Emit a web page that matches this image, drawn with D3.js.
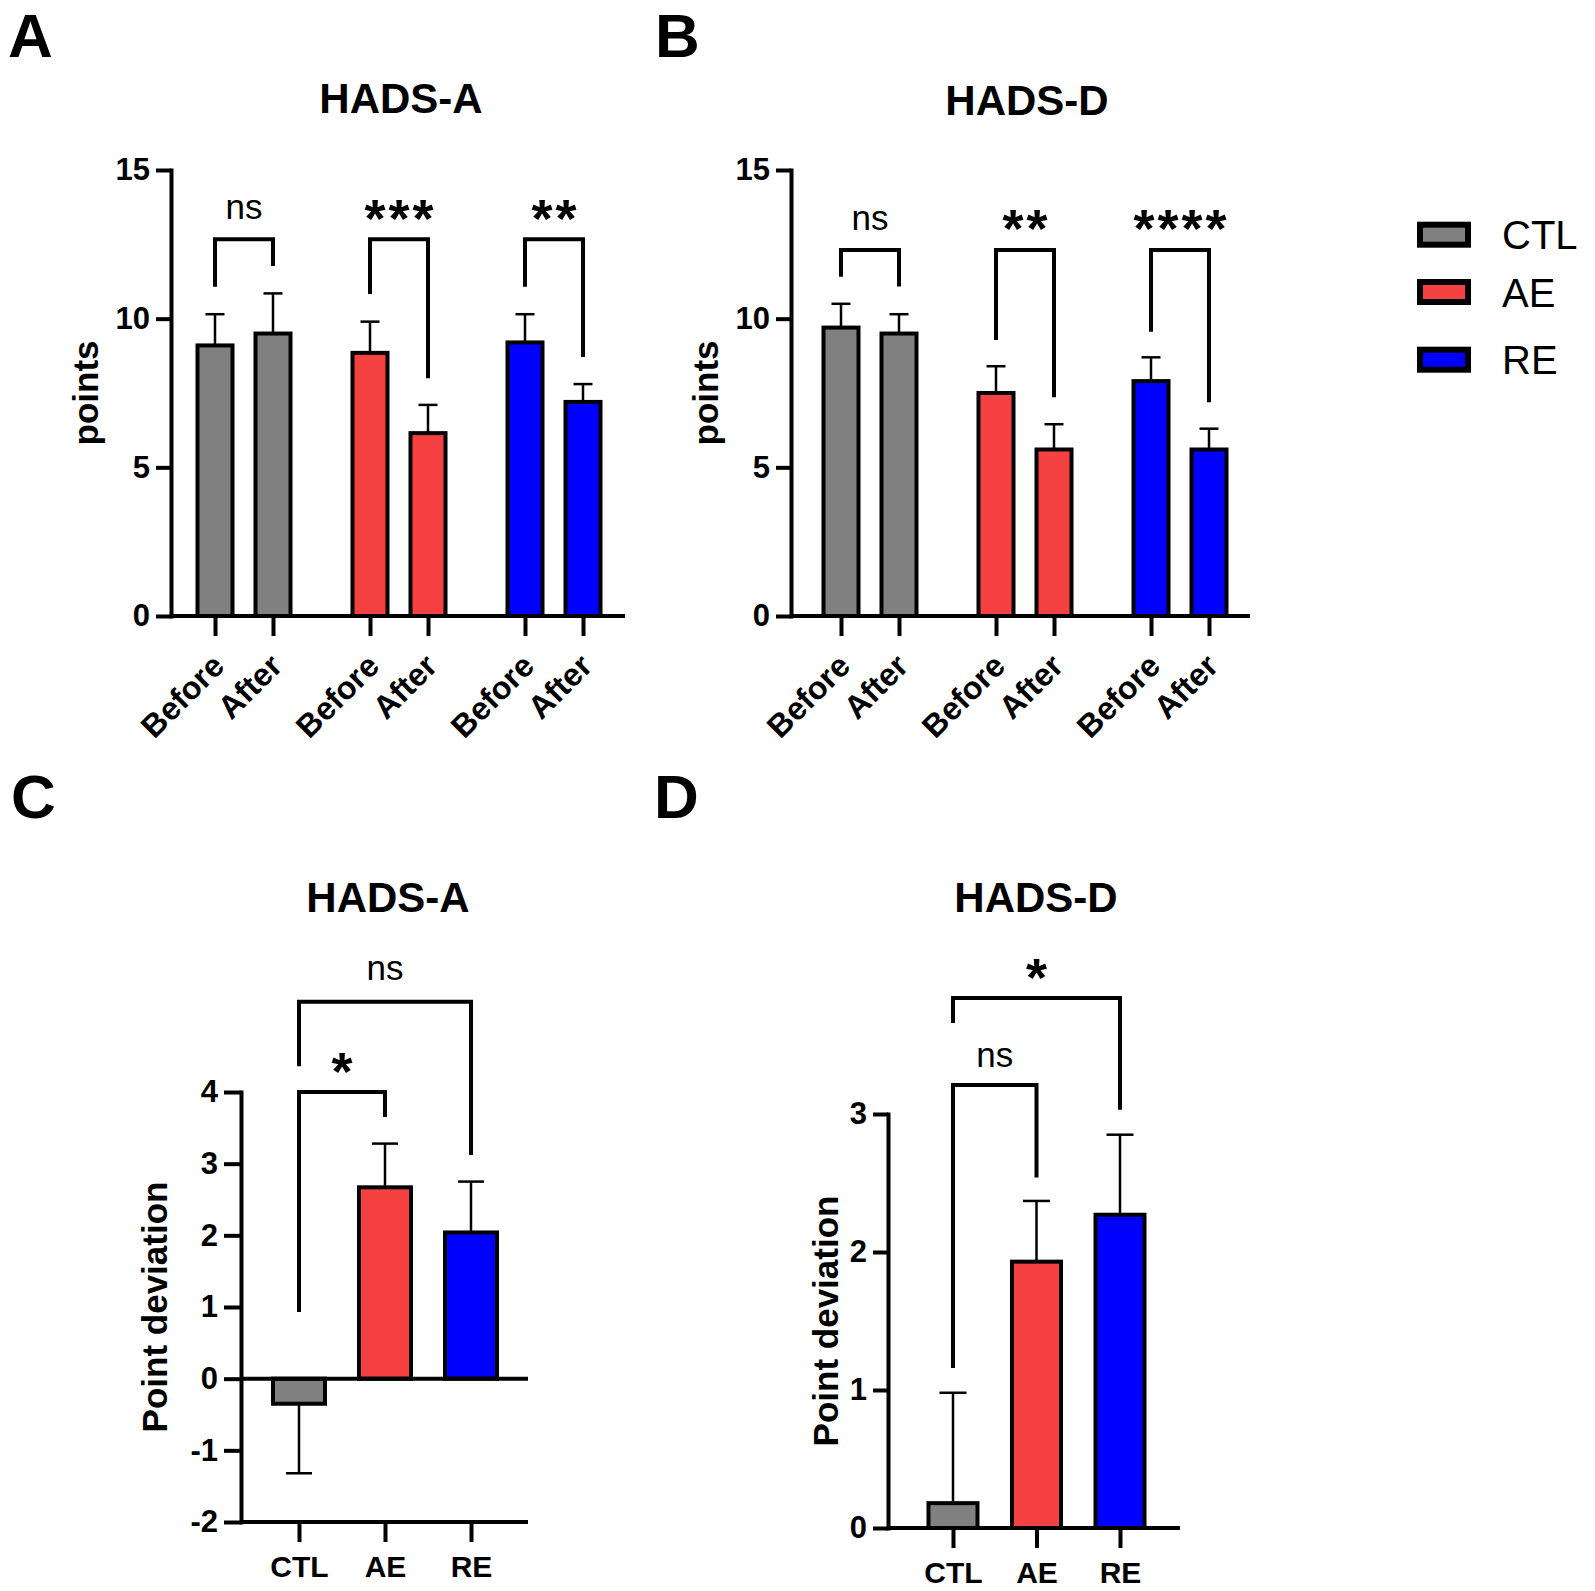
<!DOCTYPE html>
<html><head><meta charset="utf-8">
<script src="https://cdn.jsdelivr.net/npm/d3@7"></script>
<style>body{margin:0;background:#fff}svg{display:block}text{font-family:"Liberation Sans",Arial,sans-serif}</style>
</head><body>
<svg id="c" width="1595" height="1591"></svg>
<script>
// ---------- data ----------
const groups = ['CTL', 'AE', 'RE'];
const phases = ['Before', 'After'];
const colors = ['#808080', '#f54141', '#0000ff'];
const titles = ['HADS-A', 'HADS-D', 'HADS-A', 'HADS-D'];
const letters = ['A', 'B', 'C', 'D'];
// Panel A: HADS-A before/after (mean, SEM) order CTL-B, CTL-A, AE-B, AE-A, RE-B, RE-A
const aMean = [9.1, 9.5, 8.85, 6.15, 9.2, 7.2];
const aSem  = [1.05, 1.35, 1.05, 0.95, 0.95, 0.6];
// Panel B: HADS-D before/after
const bMean = [9.7, 9.5, 7.5, 5.6, 7.9, 5.6];
const bSem  = [0.8, 0.65, 0.9, 0.85, 0.8, 0.7];
// Panel C: HADS-A point deviation
const cMean = [-0.35, 2.67, 2.04];
const cSem  = [0.97, 0.61, 0.71];
// Panel D: HADS-D point deviation
const dMean = [0.18, 1.93, 2.27];
const dSem  = [0.8, 0.44, 0.58];
// tick labels
const abTicks = [0, 5, 10, 15];
const cTicks = [-2, -1, 0, 1, 2, 3, 4];
const dTicks = [0, 1, 2, 3];
// significance annotations: [from, to, bracketTop, leftEnd, rightEnd, label, labelCenter]
const aSig = [[0, 1, 12.67, 11.07, 11.77, 'ns', 13.66], [2, 3, 12.67, 10.83, 8.0, '***', 13.6], [4, 5, 12.67, 11.07, 8.71, '**', 13.6]];
const bSig = [[0, 1, 12.31, 11.41, 11.08, 'ns', 13.29], [2, 3, 12.31, 9.28, 7.36, '**', 13.26], [4, 5, 12.31, 9.56, 7.19, '****', 13.26]];
const cSig = [[0, 1, 4.0, 0.93, 3.65, '*', 4.38], [0, 2, 5.26, 4.36, 3.12, 'ns', 5.69]];
const dSig = [[0, 1, 3.21, 1.16, 2.54, 'ns', 3.41], [0, 2, 3.84, 3.66, 3.03, '*', 4.04]];

// ---------- layout ----------
const L = {
  A: {ax: 171, xEnd: 625, y0: 616, y1: 170, gx: [244, 554], off: 29, bw: 35, cap: 19, ylab: 98, tk: 15},
  B: {ax: 791, xEnd: 1250, y0: 616, y1: 170, gx: [870, 1180], off: 29, bw: 35, cap: 19, ylab: 718, tk: 15},
  C: {ax: 241, xEnd: 528, y0: 1522, y1: 1092, gx: [299, 471], bw: 52, cap: 26, ylab: 167, tk: 17},
  D: {ax: 888, xEnd: 1180, y0: 1528, y1: 1114, gx: [953, 1120], bw: 49, cap: 27, ylab: 838, tk: 15}
};
const svg = d3.select('#c');
const LW = 4;
const FONT = '"Liberation Sans",Arial,sans-serif';

function yAxis(g, y, ticks, cfg) {
  const ax = g.append('g').attr('transform', `translate(${cfg.ax},0)`)
    .call(d3.axisLeft(y).tickValues(ticks).tickFormat(d => String(d)).tickSize(cfg.tk).tickPadding(6).tickSizeOuter(0));
  ax.select('.domain').attr('stroke-width', LW).attr('stroke-linecap', 'square');
  ax.selectAll('.tick line').attr('stroke-width', LW);
  ax.selectAll('.tick text').attr('font-size', 31).attr('font-weight', 'bold').attr('fill', '#000')
    .style('font-family', FONT);
}

function sigMarks(g, sig, xpos, y) {
  sig.forEach(s => {
    const x1 = xpos(s[0]), x2 = xpos(s[1]);
    g.append('path').attr('fill', 'none').attr('stroke', '#000').attr('stroke-width', LW)
      .attr('stroke-linejoin', 'miter')
      .attr('d', `M${x1},${y(s[3])}V${y(s[2])}H${x2}V${y(s[4])}`);
    const ns = s[5] === 'ns';
    const fs = ns ? 35 : 54;
    const yc = y(s[6]);
    g.append('text').attr('x', (x1 + x2) / 2 + (ns ? 0 : 1.5)).attr('y', ns ? yc + 0.26 * fs : yc + 0.47 * fs)
      .attr('text-anchor', 'middle').attr('font-size', fs).attr('font-weight', ns ? 'normal' : 'bold')
      .attr('letter-spacing', ns ? 0 : 3).text(s[5]);
  });
}

function bars(g, rows, y, cfg) {
  rows.forEach(r => {
    const e = r.m >= 0 ? r.m + r.s : r.m - r.s;
    g.append('line').attr('x1', r.x).attr('x2', r.x).attr('y1', y(r.m)).attr('y2', y(e))
      .attr('stroke', '#000').attr('stroke-width', 2.5);
    g.append('line').attr('x1', r.x - cfg.cap / 2).attr('x2', r.x + cfg.cap / 2).attr('y1', y(e)).attr('y2', y(e))
      .attr('stroke', '#000').attr('stroke-width', 2.5);
  });
  g.selectAll('rect.bar').data(rows).join('rect').attr('class', 'bar')
    .attr('x', r => r.x - cfg.bw / 2).attr('width', cfg.bw)
    .attr('y', r => y(Math.max(0, r.m))).attr('height', r => Math.abs(y(r.m) - y(0)))
    .attr('fill', r => r.color).attr('stroke', '#000').attr('stroke-width', LW);
}

function paired(cfg, mean, sem, sig, ylabel) {
  const g = svg.append('g');
  const y = d3.scaleLinear().domain(d3.extent(abTicks)).range([cfg.y0, cfg.y1]);
  const gx = d3.scalePoint().domain(groups).range(cfg.gx);
  const px = d3.scalePoint().domain(phases).range([-cfg.off, cfg.off]);
  const keys = groups.flatMap(gr => phases.map(ph => gr + '|' + ph));
  const xs = d3.scaleOrdinal().domain(keys).range(keys.map(k => gx(k.split('|')[0]) + px(k.split('|')[1])));
  const rows = keys.map((k, i) => ({k, x: xs(k), m: mean[i], s: sem[i], color: colors[groups.indexOf(k.split('|')[0])]}));
  bars(g, rows, y, cfg);
  g.append('line').attr('x1', cfg.ax).attr('x2', cfg.xEnd).attr('y1', cfg.y0).attr('y2', cfg.y0)
    .attr('stroke', '#000').attr('stroke-width', LW);
  const xa = g.append('g').attr('transform', `translate(0,${cfg.y0})`)
    .call(d3.axisBottom(xs).tickSize(20).tickFormat(''));
  xa.select('.domain').remove();
  xa.selectAll('.tick line').attr('stroke-width', LW);
  g.selectAll('text.xl').data(rows).join('text').attr('class', 'xl')
    .attr('transform', r => `translate(${r.x + 11},${cfg.y0 + 52}) rotate(-45)`)
    .attr('text-anchor', 'end').attr('font-size', 32).attr('font-weight', 'bold')
    .text(r => r.k.split('|')[1]);
  yAxis(g, y, abTicks, cfg);
  g.append('text').attr('transform', `translate(${cfg.ylab},${(cfg.y0 + cfg.y1) / 2}) rotate(-90)`)
    .attr('text-anchor', 'middle').attr('font-size', 35).attr('font-weight', 'bold').text(ylabel);
  sigMarks(g, sig, i => xs(keys[i]), y);
}

function single(cfg, mean, sem, sig, ticks) {
  const g = svg.append('g');
  const y = d3.scaleLinear().domain(d3.extent(ticks)).range([cfg.y0, cfg.y1]);
  const x = d3.scalePoint().domain(groups).range(cfg.gx);
  const rows = groups.map((gr, i) => ({k: gr, x: x(gr), m: mean[i], s: sem[i], color: colors[i]}));
  bars(g, rows, y, cfg);
  if (ticks[0] < 0) {
    g.append('line').attr('x1', cfg.ax).attr('x2', cfg.xEnd).attr('y1', y(0)).attr('y2', y(0))
      .attr('stroke', '#000').attr('stroke-width', LW);
  }
  g.append('line').attr('x1', cfg.ax).attr('x2', cfg.xEnd).attr('y1', cfg.y0).attr('y2', cfg.y0)
    .attr('stroke', '#000').attr('stroke-width', LW);
  const xa = g.append('g').attr('transform', `translate(0,${cfg.y0})`)
    .call(d3.axisBottom(x).tickSize(20).tickPadding(14));
  xa.select('.domain').remove();
  xa.selectAll('.tick line').attr('stroke-width', LW);
  xa.selectAll('.tick text').attr('font-size', 30).attr('font-weight', 'bold').attr('fill', '#000')
    .style('font-family', FONT);
  yAxis(g, y, ticks, cfg);
  g.append('text').attr('transform', `translate(${cfg.ylab},${(cfg.y0 + cfg.y1) / 2}) rotate(-90)`)
    .attr('text-anchor', 'middle').attr('font-size', 35).attr('font-weight', 'bold').text('Point deviation');
  sigMarks(g, sig, i => x(groups[i]), y);
}

paired(L.A, aMean, aSem, aSig, 'points');
paired(L.B, bMean, bSem, bSig, 'points');
single(L.C, cMean, cSem, cSig, cTicks);
single(L.D, dMean, dSem, dSig, dTicks);

// panel letters and titles
const letterPos = [[8, 57], [655, 57], [11, 818], [654, 818]];
const titlePos = [[401, 113], [1027, 115], [388, 912], [1036, 912]];
letters.forEach((t, i) => svg.append('text').attr('x', letterPos[i][0]).attr('y', letterPos[i][1])
  .attr('font-size', 62).attr('font-weight', 'bold').text(t));
titles.forEach((t, i) => svg.append('text').attr('x', titlePos[i][0]).attr('y', titlePos[i][1])
  .attr('text-anchor', 'middle').attr('font-size', 42).attr('font-weight', 'bold').text(t));

// legend
const legY = [221.7, 279, 346.7];
const lg = svg.append('g');
groups.forEach((gr, i) => {
  lg.append('rect').attr('x', 1420).attr('y', legY[i] + 3).attr('width', 48).attr('height', 20)
    .attr('fill', colors[i]).attr('stroke', '#000').attr('stroke-width', 6);
  lg.append('text').attr('x', 1502).attr('y', legY[i] + 27.5).attr('font-size', 40).text(gr);
});
</script>
</body></html>
